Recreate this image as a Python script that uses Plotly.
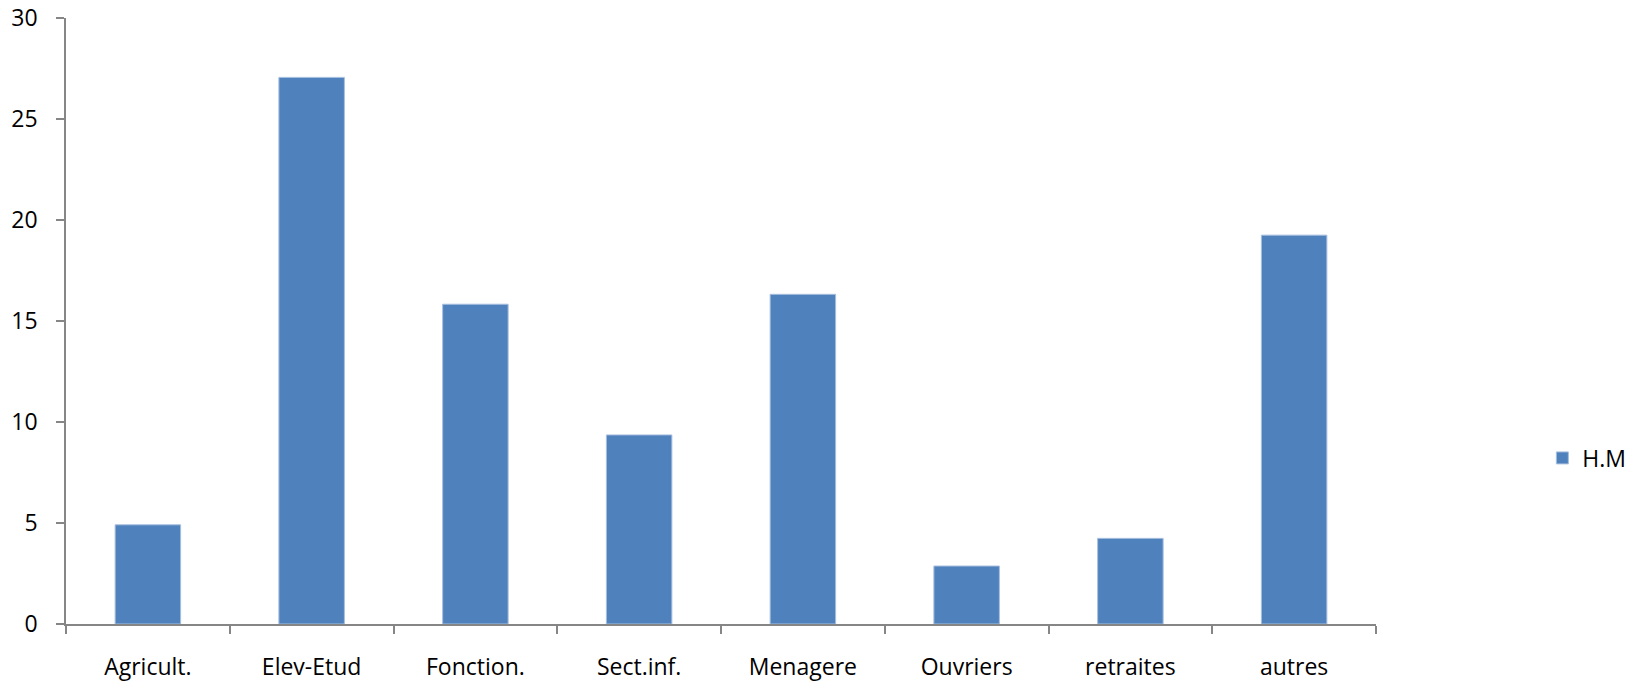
import plotly.graph_objects as go

categories = ["Agricult.", "Elev-Etud", "Fonction.", "Sect.inf.", "Menagere",
              "Ouvriers", "retraites", "autres"]
hm_values = [4.91, 27.06, 15.83, 9.36, 16.32, 2.87, 4.24, 19.25]
series_name = "H.M"
y_ticks = [0, 5, 10, 15, 20, 25, 30]

fig = go.Figure()
fig.add_trace(go.Bar(
    x=categories, y=hm_values, name=series_name,
    marker=dict(color="#4F81BD", line=dict(color="#A7BFDE", width=1)),
    showlegend=True,
))

axis_col = "#868686"
font = dict(family="Open Sans, Liberation Sans, sans-serif", size=23, color="#000000")

fig.update_layout(
    width=1634, height=685,
    paper_bgcolor="white", plot_bgcolor="white",
    margin=dict(l=66, r=258, t=18, b=61, autoexpand=False),
    bargap=0.6,
    font=font,
    showlegend=True,
    legend=dict(x=1.127, y=0.274, xanchor="left", yanchor="middle",
                font=dict(size=23), bgcolor="rgba(0,0,0,0)"),
    xaxis=dict(
        showline=True, linecolor=axis_col, linewidth=1.5,
        ticks="outside", tickson="boundaries", ticklen=8, tickcolor=axis_col,
        tickwidth=1.5, showgrid=False, automargin=False,
        ticklabelstandoff=22,
    ),
    yaxis=dict(
        range=[0, 30], tickvals=y_ticks,
        showline=True, linecolor=axis_col, linewidth=1.5,
        ticks="outside", ticklen=8, tickcolor=axis_col, tickwidth=1.5,
        showgrid=False, zeroline=False, automargin=False,
        ticklabelstandoff=14,
    ),
)

# remove the browser's default 8px body margin so the figure fills the window
fig.write_html(
    "out.html",
    config={"displayModeBar": False},
    post_script="document.body.style.margin='0';document.body.style.overflow='hidden';",
)
